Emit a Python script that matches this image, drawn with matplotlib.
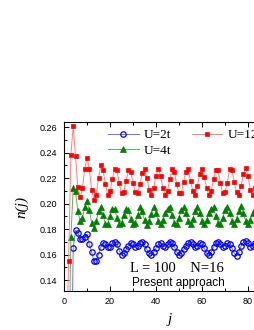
# -*- coding: utf-8 -*-
# n(j) density profile, L=100 N=16

import numpy as np
import matplotlib.pyplot as plt
from matplotlib.ticker import MultipleLocator

# site index j = 1..84 (the rest of the chain is outside the picture)
j = np.arange(1, 85)

# U=2t
n_u2 = [0.02, 0.03, 0.04, 0.165, 0.179, 0.177, 0.172, 0.172, 0.174, 0.176,
        0.168, 0.162, 0.155, 0.155, 0.160, 0.166, 0.169, 0.168, 0.166, 0.166,
        0.169, 0.170, 0.168, 0.163, 0.160, 0.161, 0.164, 0.167, 0.169, 0.168,
        0.166, 0.167, 0.169, 0.170, 0.168, 0.164, 0.161, 0.160, 0.162, 0.165,
        0.168, 0.169, 0.167, 0.166, 0.168, 0.170, 0.169, 0.166, 0.162, 0.160,
        0.161, 0.164, 0.167, 0.169, 0.170, 0.168, 0.166, 0.167, 0.169, 0.168,
        0.165, 0.161, 0.160, 0.162, 0.166, 0.169, 0.170, 0.168, 0.166, 0.167,
        0.169, 0.168, 0.165, 0.161, 0.159, 0.162, 0.167, 0.170, 0.171, 0.169,
        0.166, 0.167, 0.169, 0.168]

# U=4t
n_u4 = [0.05, 0.06, 0.174, 0.212, 0.210, 0.194, 0.186, 0.189, 0.197, 0.202,
        0.195, 0.185, 0.181, 0.186, 0.194, 0.197, 0.191, 0.184, 0.184, 0.190,
        0.196, 0.196, 0.189, 0.184, 0.185, 0.191, 0.196, 0.195, 0.188, 0.184,
        0.185, 0.191, 0.197, 0.194, 0.187, 0.183, 0.186, 0.192, 0.197, 0.193,
        0.186, 0.184, 0.187, 0.193, 0.196, 0.197, 0.191, 0.185, 0.184, 0.189,
        0.195, 0.197, 0.193, 0.186, 0.184, 0.188, 0.194, 0.197, 0.193, 0.186,
        0.184, 0.187, 0.193, 0.196, 0.197, 0.190, 0.185, 0.184, 0.189, 0.195,
        0.197, 0.193, 0.186, 0.184, 0.188, 0.194, 0.198, 0.193, 0.186, 0.184,
        0.187, 0.193, 0.196, 0.194]

# U=12t
n_u12 = [0.08, 0.155, 0.238, 0.261, 0.237, 0.213, 0.205, 0.212, 0.227, 0.236,
         0.227, 0.211, 0.203, 0.207, 0.220, 0.230, 0.226, 0.215, 0.207, 0.210,
         0.219, 0.227, 0.226, 0.216, 0.208, 0.209, 0.218, 0.226, 0.225, 0.216,
         0.209, 0.208, 0.215, 0.224, 0.227, 0.220, 0.211, 0.207, 0.212, 0.222,
         0.227, 0.222, 0.212, 0.207, 0.210, 0.219, 0.227, 0.225, 0.215, 0.208,
         0.208, 0.217, 0.225, 0.227, 0.218, 0.210, 0.207, 0.214, 0.223, 0.227,
         0.221, 0.212, 0.207, 0.210, 0.219, 0.226, 0.226, 0.216, 0.208, 0.209,
         0.216, 0.227, 0.226, 0.217, 0.209, 0.207, 0.214, 0.223, 0.228, 0.222,
         0.211, 0.207, 0.212, 0.221]

fig = plt.figure(figsize=(2.55, 3.3), dpi=100)
# axes runs past the right edge of the picture (cropped figure)
ax = fig.add_axes([0.251, 0.118, 0.902, 0.512])

ax.plot(j, n_u2, '-o', color='#7070ff', lw=0.7, ms=3.9, mfc='none',
        mec='#0000ff', mew=0.9, label='U=2t')
ax.plot(j, n_u4, '-^', color='#60b060', lw=0.7, ms=4.5, mfc='#008000',
        mec='#008000', mew=0.5, label='U=4t')
ax.plot(j, n_u12, '-s', color='#ff8080', lw=0.7, ms=3.5, mfc='#ff0000',
        mec='#ff0000', mew=0.5, label='U=12t')

ax.set_xlim(0, 100)
ax.set_ylim(0.1314, 0.2639)
ax.xaxis.set_major_locator(MultipleLocator(20))
ax.xaxis.set_minor_locator(MultipleLocator(10))
ax.yaxis.set_major_locator(MultipleLocator(0.02))
ax.yaxis.set_minor_locator(MultipleLocator(0.01))
ax.yaxis.set_major_formatter(plt.FuncFormatter(lambda v, p: '%.2f' % v))
ax.tick_params(which='both', direction='in', top=True, right=True,
               width=0.7, labelsize=6.5, labelfontfamily='Liberation Sans')
ax.tick_params(which='major', length=3.5)
ax.tick_params(which='minor', length=2)
ax.tick_params(axis='y', pad=5)
ax.tick_params(axis='x', pad=4)
for s in ax.spines.values():
    s.set_linewidth(0.8)

ax.set_ylabel('n(j)', family='Liberation Serif', style='italic', fontsize=11)
ax.yaxis.set_label_coords(-0.155, 0.5)
ax.set_xlabel('j', family='Liberation Serif', style='italic', fontsize=11)
ax.xaxis.set_label_coords(0.46, -0.13)

h, l = ax.get_legend_handles_labels()
ax.legend(h, l, ncol=2, loc='upper left', bbox_to_anchor=(0.4235, 0.609),
          bbox_transform=fig.transFigure, frameon=False,
          prop={'family': 'Liberation Serif', 'size': 9.6},
          handlelength=2.3, handletextpad=0.4, columnspacing=1.5,
          labelspacing=0.25, borderpad=0, borderaxespad=0)

ax.text(28.7, 0.1462, 'L = 100    N=16', family='Liberation Serif',
        fontsize=10.5, va='baseline')
ax.text(29.6, 0.1351, 'Present approach', family='Liberation Sans',
        fontsize=8.5, va='baseline')

fig.savefig('out.png', dpi=100)
